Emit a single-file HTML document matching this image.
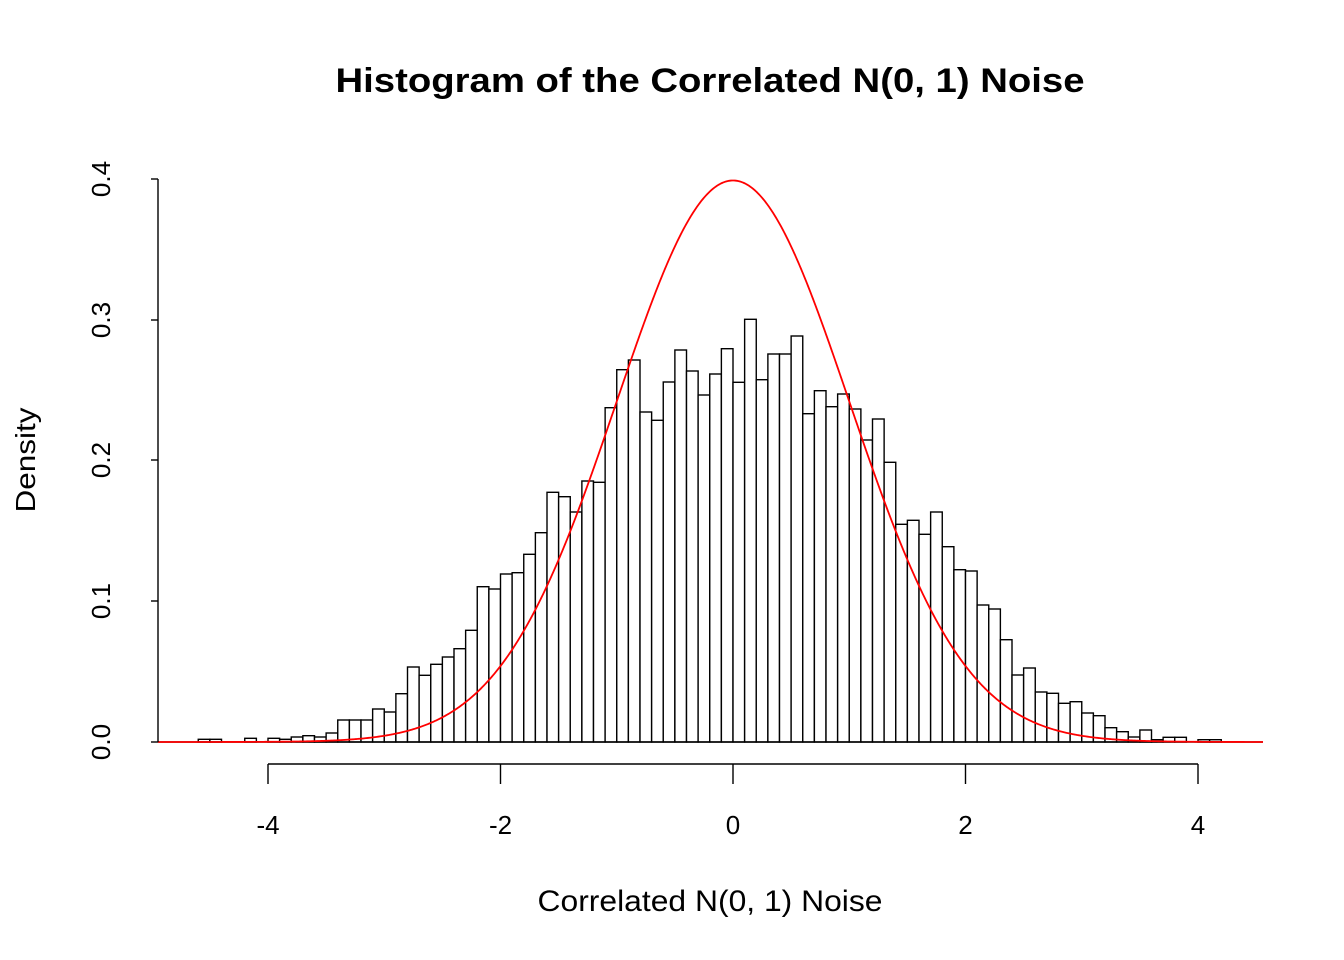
<!DOCTYPE html>
<html><head><meta charset="utf-8"><style>
html,body{margin:0;padding:0;background:#fff;}
svg{display:block;font-family:"Liberation Sans",Arial,sans-serif;}
</style></head><body>
<svg id="s" width="1344" height="960" viewBox="0 0 1344 960" xmlns="http://www.w3.org/2000/svg">
<rect width="1344" height="960" fill="#fff"/>
<text x="710" y="92" font-size="34" font-weight="bold" text-anchor="middle" textLength="749" lengthAdjust="spacingAndGlyphs">Histogram of the Correlated N(0, 1) Noise</text>
<text x="710" y="911" font-size="30" text-anchor="middle" textLength="345" lengthAdjust="spacingAndGlyphs">Correlated N(0, 1) Noise</text>
<text transform="translate(35,460) rotate(-90)" font-size="28" text-anchor="middle" textLength="105" lengthAdjust="spacingAndGlyphs">Density</text>
<g id="bars" fill="#fff" stroke="#000" stroke-width="1.4"></g>
<line x1="158" y1="742" x2="1263" y2="742" stroke="#000" stroke-width="1.4"/>
<path id="curve" fill="none" stroke="#ff0000" stroke-width="1.8"/>
<g stroke="#000" stroke-width="1.4">
<line x1="158" y1="179" x2="158" y2="742"/>
<line x1="151" y1="742" x2="158" y2="742"/><line x1="151" y1="601" x2="158" y2="601"/><line x1="151" y1="460" x2="158" y2="460"/><line x1="151" y1="320" x2="158" y2="320"/><line x1="151" y1="179" x2="158" y2="179"/>
<line x1="268" y1="764" x2="1198" y2="764"/>
<line x1="268" y1="764" x2="268" y2="784"/><line x1="500.5" y1="764" x2="500.5" y2="784"/><line x1="733" y1="764" x2="733" y2="784"/><line x1="965.5" y1="764" x2="965.5" y2="784"/><line x1="1198" y1="764" x2="1198" y2="784"/>
</g>
<g font-size="26" text-anchor="middle">
<text x="268" y="834">-4</text><text x="500.5" y="834">-2</text><text x="733" y="834">0</text><text x="965.5" y="834">2</text><text x="1198" y="834">4</text>
<text transform="translate(110,742) rotate(-90)">0.0</text>
<text transform="translate(110,601) rotate(-90)">0.1</text>
<text transform="translate(110,460) rotate(-90)">0.2</text>
<text transform="translate(110,320) rotate(-90)">0.3</text>
<text transform="translate(110,179) rotate(-90)">0.4</text>
</g>
</svg>
<script>
var tops=[739.3,739.3,742,742,738.3,742,738.3,739.3,737,735.7,737,733,720,720,720,709,712,693.7,667,675.3,664.3,657,648.7,630.3,586.7,589,574,572.7,554.3,532.7,492.3,496.7,512,481,482.3,
407.7,369.7,360,412,420.3,382,350,371,395,374,348.7,382.3,319.3,379.7,354,354,336,413.7,390.7,406.7,394,409,
440,419,462.3,524.3,520.3,534.3,512,546.7,569.7,571,605,609,639.7,675,668,692,693.3,703.3,701.7,713,715.7,727.7,731.7,737,730,739.7,737.3,737.3,742,739.7,739.7];
var g=document.getElementById('bars'),ns='http://www.w3.org/2000/svg';
for(var i=0;i<tops.length;i++){var x0=733+(-4.6+i*0.1)*116.25,t=tops[i];
 if(t>=741.5)continue;
 var r=document.createElementNS(ns,'rect');r.setAttribute('x',x0.toFixed(2));r.setAttribute('y',t);
 r.setAttribute('width','11.625');r.setAttribute('height',(742-t).toFixed(2));g.appendChild(r);}
var d='';for(var px=158;px<=1263;px+=1){var x=(px-733)/116.25,y=742-1407.5*Math.exp(-x*x/2)/Math.sqrt(2*Math.PI);d+=(px==158?'M':'L')+px+' '+y.toFixed(2);}
document.getElementById('curve').setAttribute('d',d);
</script>
</body></html>
